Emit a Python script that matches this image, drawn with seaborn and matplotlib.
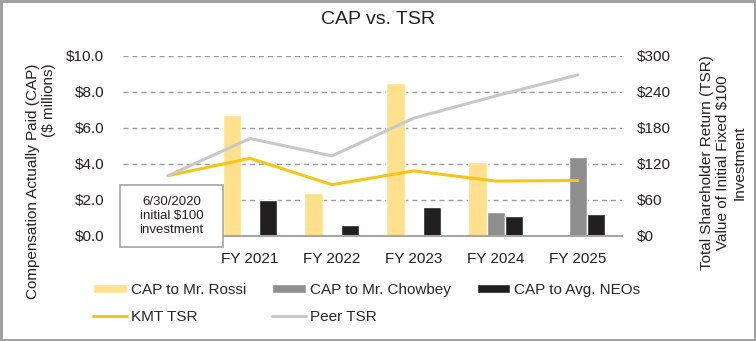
import numpy as np
import pandas as pd
import matplotlib
matplotlib.use("Agg")
import matplotlib.pyplot as plt
import matplotlib.patches as mpatches
import seaborn as sns

# ---------------- data ----------------
periods = ["6/30/2020", "FY 2021", "FY 2022", "FY 2023", "FY 2024", "FY 2025"]
fy_labels = periods[1:]
cap_rossi = [6.7, 2.4, 8.5, 4.1, np.nan]
cap_chowbey = [np.nan, np.nan, np.nan, 1.3, 4.4]
cap_neos = [2.0, 0.6, 1.6, 1.1, 1.2]
kmt_tsr = [100, 129, 85, 108, 91, 92]
peer_tsr = [100, 162, 133, 196, 233, 268]
series_names = ["CAP to Mr. Rossi", "CAP to Mr. Chowbey", "CAP to Avg. NEOs"]
left_ticks = [0, 2, 4, 6, 8, 10]
right_ticks = [0, 60, 120, 180, 240, 300]

colors = {"CAP to Mr. Rossi": "#FFE08C",
          "CAP to Mr. Chowbey": "#8E8E8E",
          "CAP to Avg. NEOs": "#231F20"}
kmt_color = "#F5C518"
peer_color = "#C8C8C8"

period_pos = np.arange(len(periods))
fy_pos = period_pos[1:]

df = pd.DataFrame({
    "pos": np.concatenate([fy_pos] * 3),
    "value": cap_rossi + cap_chowbey + cap_neos,
    "series": sum([[s] * len(fy_pos) for s in series_names], []),
})

sns.set_theme(style="white")
plt.rcParams["font.family"] = ["Liberation Sans", "DejaVu Sans"]
plt.rcParams["font.size"] = 11

fig = plt.figure(figsize=(7.56, 3.41), dpi=100, linewidth=2.5,
                 edgecolor="#A0A0A0", facecolor="white")
ax = fig.add_axes([123 / 756, 1 - 235.7 / 341, (622 - 123) / 756, (235.7 - 55.7) / 341])

sns.barplot(data=df, x="pos", y="value", hue="series", hue_order=series_names,
            palette=colors, native_scale=True, width=0.67, errorbar=None,
            saturation=1, ax=ax, zorder=2)

ax.set_ylim(0, 10)
ax.set_xlim(-0.55, 5.54)
ax.set_yticks(left_ticks)
ax.set_yticklabels([f"${v:.1f}" for v in left_ticks])
ax.set_xticks(fy_pos)
ax.set_xticklabels(fy_labels)
ax.set_xlabel("")
ax.set_ylabel("")
ax.tick_params(axis="y", length=0, pad=13.5, labelsize=11, colors="#231F20")
ax.tick_params(axis="x", length=0, pad=12, labelsize=11, colors="#231F20")
ax.set_axisbelow(True)
ax.yaxis.grid(True, color="#999999", linewidth=1.0, linestyle=(0, (3.6, 2.9)))
for s in ["top", "left", "right"]:
    ax.spines[s].set_visible(False)
ax.spines["bottom"].set_color("#A6A6A6")
ax.spines["bottom"].set_linewidth(1.5)

ax2 = ax.twinx()
sns.lineplot(x=period_pos, y=kmt_tsr, ax=ax2, color=kmt_color, linewidth=2.2,
             label="KMT TSR")
sns.lineplot(x=period_pos, y=peer_tsr, ax=ax2, color=peer_color, linewidth=2.2,
             label="Peer TSR")
ax2.set_ylim(0, 300)
ax2.set_yticks(right_ticks)
ax2.set_yticklabels([f"${v}" for v in right_ticks])
ax2.tick_params(axis="y", length=0, pad=10.5, labelsize=11, colors="#231F20")
for s in ax2.spines.values():
    s.set_visible(False)
ax2.set_xlim(-0.55, 5.54)

# legend
h1, l1 = ax.get_legend_handles_labels()
h2, l2 = ax2.get_legend_handles_labels()
if ax.get_legend():
    ax.get_legend().remove()
if ax2.get_legend():
    ax2.get_legend().remove()
hd = dict(zip(l1 + l2, h1 + h2))
order = ["CAP to Mr. Rossi", "KMT TSR", "CAP to Mr. Chowbey", "Peer TSR", "CAP to Avg. NEOs"]
fig.legend([hd[k] for k in order], order, ncol=3, loc="center left",
           bbox_to_anchor=(93 / 756, 1 - 303.5 / 341), frameon=False,
           borderpad=0, borderaxespad=0, handlelength=2.2, handleheight=0.5,
           handletextpad=0.27, columnspacing=1.7, labelspacing=0.85, fontsize=11)

# title and axis labels
fig.text(0.5, 1 - 20 / 341, "CAP vs. TSR", ha="center", va="center",
         fontsize=14, color="#231F20")
fig.text(41 / 756, 1 - 181 / 341, "Compensation Actually Paid (CAP)\n($ millions)",
         rotation=90, ha="center", va="center", multialignment="right",
         fontsize=11, color="#231F20")
fig.text(723 / 756, 1 - 163 / 341,
         "Total Shareholder Return (TSR)\nValue of Initial Fixed $100\nInvestment",
         rotation=90, ha="center", va="center", multialignment="center",
         fontsize=11, color="#231F20")

# annotation box
box = mpatches.Rectangle((120 / 756, 1 - 247 / 341), 103 / 756, 62 / 341,
                         transform=fig.transFigure, facecolor="white",
                         edgecolor="#A6A6A6", linewidth=1.2, zorder=5)
fig.add_artist(box)
fig.text(171.5 / 756, 1 - 216 / 341, "6/30/2020\ninitial $100\ninvestment",
         ha="center", va="center", multialignment="center", fontsize=9.5,
         color="#231F20", zorder=6)

fig.savefig("out.png", dpi=100)
